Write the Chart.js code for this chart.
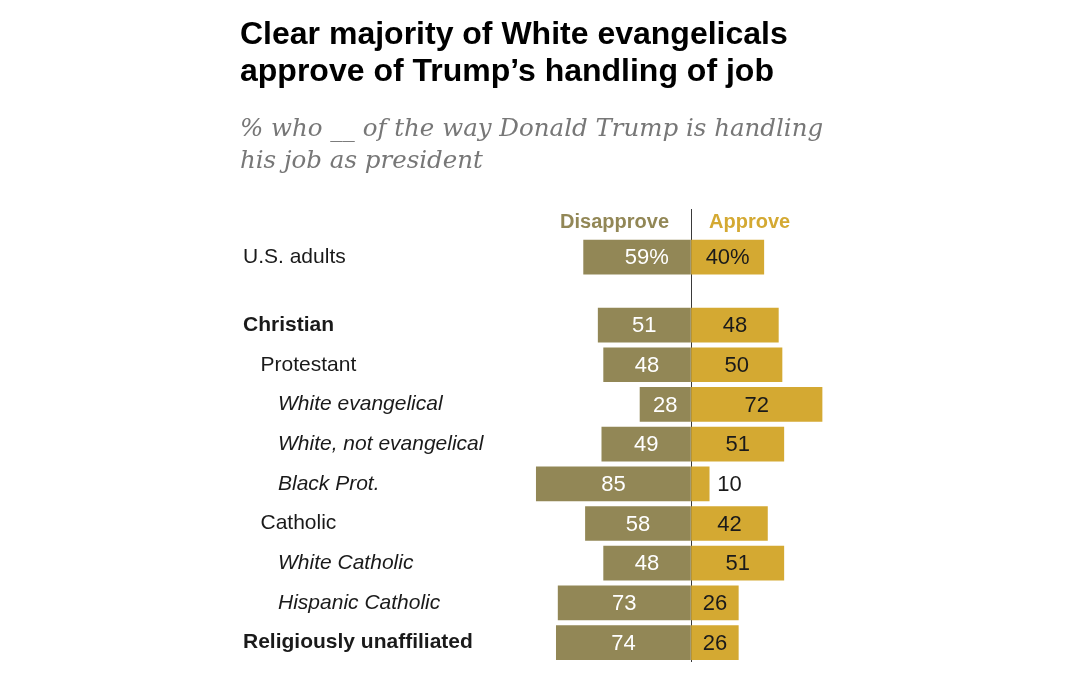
<!DOCTYPE html>
<html>
<head>
<meta charset="utf-8">
<script src="https://cdn.jsdelivr.net/npm/chart.js@4.4.1/dist/chart.umd.min.js"></script>
<style>
  html, body { margin: 0; padding: 0; background: #ffffff; }
  #wrap { position: relative; width: 1080px; height: 675px; overflow: hidden; }
  #chart { position: absolute; left: 0; top: 0; }
  .title { position: absolute; left: 240px; top: 15px; font-family: "Liberation Sans", Arial, sans-serif; font-weight: bold; font-size: 32px; line-height: 37px; color: #000; z-index: 2; white-space: nowrap; }
  .subtitle { position: absolute; left: 240px; top: 112px; font-family: "DejaVu Serif", serif; font-style: italic; font-size: 24.5px; line-height: 32px; color: #777777; z-index: 2; white-space: nowrap; }
</style>
</head>
<body>
<div id="wrap">
  <div class="title">Clear majority of White evangelicals<br>approve of Trump’s handling of job</div>
  <div class="subtitle">% who __ of the way Donald Trump is handling<br>his job as president</div>
  <canvas id="chart" width="1080" height="675"></canvas>
</div>
<script>
// ---- Data ----
const topCategories = ['U.S. adults'];
const topDisapprove = [59];
const topApprove = [40];

const categories = ['Christian', 'Protestant', 'White evangelical', 'White, not evangelical', 'Black Prot.', 'Catholic', 'White Catholic', 'Hispanic Catholic', 'Religiously unaffiliated'];
const disapprove = [51, 48, 28, 49, 85, 58, 48, 73, 74];
const approve = [48, 50, 72, 51, 10, 42, 51, 26, 26];

const seriesNames = ['Disapprove', 'Approve'];

// ---- Styling (kept separate from data) ----
const COLOR_DIS = '#928756';
const COLOR_APP = '#d4a932';
const boldRows = new Set(['Christian', 'Religiously unaffiliated']);
const subRows = new Set(['Protestant', 'Catholic']);
const italicRows = new Set(['White evangelical', 'White, not evangelical', 'Black Prot.', 'White Catholic', 'Hispanic Catholic']);
const FONT = '"Liberation Sans", Arial, sans-serif';

function indentFor(name) {
  if (italicRows.has(name)) return 6;
  if (subRows.has(name)) return 3;
  return 0;
}

function yScale(labels, stackWeight, weight) {
  return {
    type: 'category',
    position: 'left',
    stack: 'rows',
    stackWeight: stackWeight,
    weight: weight,
    stacked: true,
    offset: true,
    labels: labels,
    grid: { display: false, drawTicks: false },
    border: { display: false },
    afterFit: (s) => { s.width = 266; },
    ticks: {
      crossAlign: 'far',
      padding: 0,
      color: '#1a1a1a',
      autoSkip: false,
      font: (c) => {
        const name = c.scale.getLabels()[c.index];
        return {
          family: FONT,
          size: 21,
          weight: boldRows.has(name) ? 'bold' : 'normal',
          style: italicRows.has(name) ? 'italic' : 'normal'
        };
      },
      callback: function (value) {
        const name = this.getLabelForValue(value);
        return ' '.repeat(indentFor(name)) + name;
      }
    }
  };
}

const valueLabels = {
  id: 'valueLabels',
  afterDatasetsDraw(chart) {
    const ctx = chart.ctx;
    ctx.save();
    ctx.font = '22px ' + FONT;
    ctx.textBaseline = 'middle';
    chart.data.datasets.forEach((ds, di) => {
      const meta = chart.getDatasetMeta(di);
      meta.data.forEach((bar, i) => {
        const v = Math.abs(ds.data[i]);
        const suffix = ds.percent ? '%' : '';
        const left = Math.min(bar.x, bar.base);
        const right = Math.max(bar.x, bar.base);
        const cx = (left + right) / 2;
        const y = bar.y + 1;
        if (right - left < 30) {
          ctx.fillStyle = '#1a1a1a';
          ctx.textAlign = 'left';
          ctx.fillText(v + suffix, right + 8, y);
        } else if (ds.side === 'dis') {
          ctx.fillStyle = '#ffffff';
          ctx.textAlign = 'center';
          const num = String(v);
          ctx.fillText(num, cx, y);
          if (suffix) {
            const w = ctx.measureText(num).width;
            ctx.textAlign = 'left';
            ctx.fillText(suffix, cx + w / 2, y);
          }
        } else {
          ctx.fillStyle = '#1a1a1a';
          ctx.textAlign = 'center';
          ctx.fillText(v + suffix, cx, y);
        }
      });
    });
    ctx.restore();
  }
};

const headers = {
  id: 'headers',
  afterDraw(chart) {
    const ctx = chart.ctx;
    const x0 = chart.scales.x.getPixelForValue(0);
    const y = chart.chartArea.top + 19;
    ctx.save();
    ctx.font = 'bold 20px ' + FONT;
    ctx.textBaseline = 'alphabetic';
    ctx.fillStyle = COLOR_DIS;
    ctx.textAlign = 'right';
    ctx.fillText(seriesNames[0], x0 - 22, y);
    ctx.fillStyle = COLOR_APP;
    ctx.textAlign = 'left';
    ctx.fillText(seriesNames[1], x0 + 18, y);
    ctx.restore();
  }
};

const barStyle = { grouped: false, barThickness: 34 };

new Chart(document.getElementById('chart'), {
  type: 'bar',
  data: {
    datasets: [
      Object.assign({ label: seriesNames[0], side: 'dis', percent: true, yAxisID: 'yA', data: topDisapprove.map(v => -v), backgroundColor: COLOR_DIS }, barStyle),
      Object.assign({ label: seriesNames[1], side: 'app', percent: true, yAxisID: 'yA', data: topApprove, backgroundColor: COLOR_APP }, barStyle),
      Object.assign({ label: seriesNames[0], side: 'dis', yAxisID: 'yB', data: disapprove.map(v => -v), backgroundColor: COLOR_DIS }, barStyle),
      Object.assign({ label: seriesNames[1], side: 'app', yAxisID: 'yB', data: approve, backgroundColor: COLOR_APP }, barStyle)
    ]
  },
  options: {
    indexAxis: 'y',
    responsive: false,
    animation: false,
    devicePixelRatio: 1,
    layout: { padding: { left: 243, right: 207, top: 209, bottom: 6 } },
    plugins: { legend: { display: false }, tooltip: { enabled: false }, title: { display: false } },
    scales: {
      x: {
        type: 'linear',
        min: -100,
        max: 100,
        stacked: true,
        afterFit: (s) => { s.height = 0; },
        ticks: { display: false, stepSize: 10 },
        border: { display: false },
        grid: {
          drawTicks: false,
          lineWidth: 1,
          color: (c) => (c.tick && c.tick.value === 0 ? '#3a3a3a' : 'rgba(0,0,0,0)')
        }
      },
      yA: yScale(topCategories, 97, 1),
      yB: yScale(categories, 360, 0)
    }
  },
  plugins: [valueLabels, headers]
});
</script>
</body>
</html>
